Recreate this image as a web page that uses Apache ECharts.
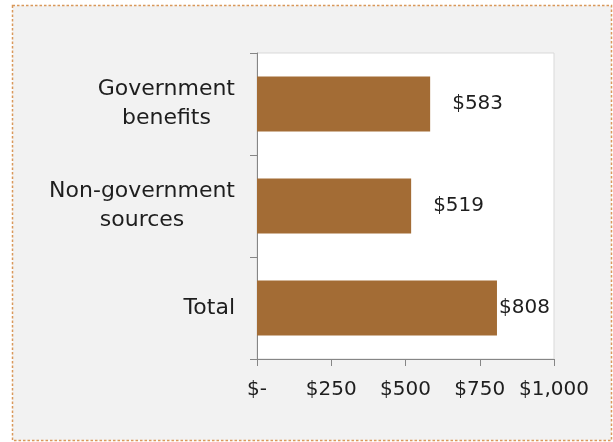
<!DOCTYPE html>
<html>
<head>
<meta charset="utf-8">
<script src="https://cdn.jsdelivr.net/npm/echarts@6/dist/echarts.min.js"></script>
<style>
html,body{margin:0;padding:0;background:#ffffff;}
#chart{width:613px;height:442px;}
</style>
</head>
<body>
<div id="chart"></div>
<script>
var categories = ['Government\nbenefits', 'Non-government\nsources', 'Total'];
var values = [583, 519, 808];
var xTicks = [0, 250, 500, 750, 1000];

var chart = echarts.init(document.getElementById('chart'), null, {renderer: 'canvas'});
var FONT = 'DejaVu Sans';
var TXT = '#1e1e1e';
var option = {
  animation: false,
  backgroundColor: '#ffffff',
  graphic: [{
    type: 'rect',
    z: -10,
    silent: true,
    shape: {x: 12.5, y: 5.5, width: 599, height: 435},
    style: {fill: '#f2f2f2', stroke: '#D9985A', lineWidth: 1.5, lineDash: [2.5, 2]}
  }],
  grid: {
    left: 257, top: 53, right: 59, bottom: 83,
    show: true, backgroundColor: '#ffffff', borderColor: '#d9d9d9', borderWidth: 1
  },
  xAxis: {
    type: 'value',
    min: xTicks[0], max: xTicks[xTicks.length - 1], interval: 250,
    splitLine: {show: false},
    axisLine: {show: true, lineStyle: {color: '#868686', width: 1}},
    axisTick: {show: true, length: 7, lineStyle: {color: '#868686'}},
    axisLabel: {
      margin: 21, color: TXT, fontFamily: FONT, fontSize: 20,
      formatter: function (v) { return v === 0 ? '$-' : '$' + v.toLocaleString('en-US'); }
    }
  },
  yAxis: {
    type: 'category',
    inverse: true,
    data: categories,
    axisLine: {show: true, lineStyle: {color: '#868686', width: 1}},
    axisTick: {show: true, length: 7, lineStyle: {color: '#868686'}},
    axisLabel: {
      margin: 22, color: TXT, fontFamily: FONT, fontSize: 22,
      align: 'right', lineHeight: 29,
      formatter: function (v) {
        return v.split('\n').map(function (s) { return '{c|' + s + '}'; }).join('\n');
      },
      rich: {
        c: {align: 'center', color: TXT, fontFamily: FONT, fontSize: 22, lineHeight: 29}
      }
    }
  },
  series: [{
    type: 'bar',
    barWidth: '54%',
    itemStyle: {color: '#A36C35'},
    label: {
      show: true, position: 'right', distance: 22,
      color: TXT, fontFamily: FONT, fontSize: 20,
      formatter: function (p) { return '$' + p.value; }
    },
    data: values.map(function (v, i) {
      return i === 2 ? {value: v, label: {distance: 2}} : v;
    })
  }]
};
chart.setOption(option);
</script>
</body>
</html>
